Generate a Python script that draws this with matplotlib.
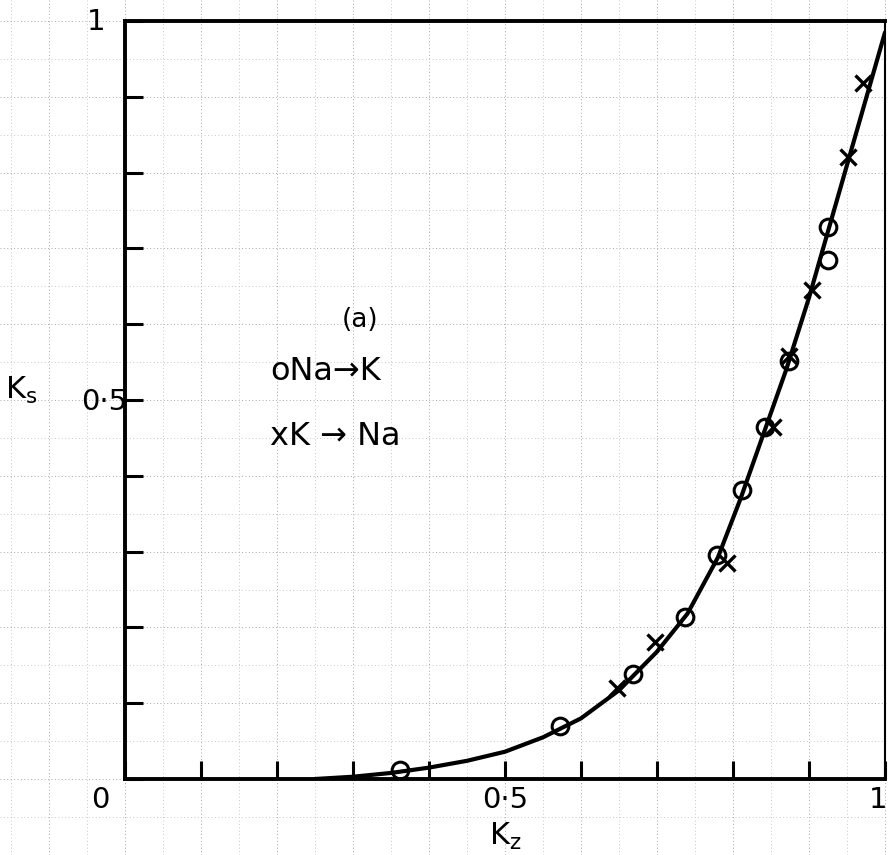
import numpy as np
import matplotlib
matplotlib.use("Agg")
import matplotlib.pyplot as plt

# ---- data ----
na_k_x = [0.362, 0.572, 0.668, 0.737, 0.779, 0.812, 0.842, 0.874, 0.925, 0.925]
na_k_y = [0.012, 0.070, 0.139, 0.214, 0.296, 0.381, 0.464, 0.551, 0.685, 0.728]

k_na_x = [0.647, 0.697, 0.792, 0.853, 0.874, 0.904, 0.951, 0.971]
k_na_y = [0.120, 0.181, 0.285, 0.464, 0.558, 0.645, 0.821, 0.918]

curve_x = [0.25, 0.30, 0.35, 0.40, 0.45, 0.50, 0.55, 0.60, 0.65, 0.70, 0.74,
           0.78, 0.81, 0.84, 0.87, 0.90, 0.93, 0.96, 1.00]
curve_y = [0.0, 0.003, 0.008, 0.015, 0.024, 0.036, 0.055, 0.080, 0.117, 0.168,
           0.218, 0.292, 0.370, 0.455, 0.540, 0.635, 0.740, 0.845, 0.985]

tick_vals = [round(0.1 * i, 1) for i in range(11)]
x_label_pos = [(-0.033, -0.028, "0"), (0.5, -0.028, "0·5"), (0.991, -0.028, "1")]
y_label_pos = [(-0.038, 0.999, "1"), (-0.028, 0.497, "0·5")]

plt.rcParams['font.family'] = ['DejaVu Sans']

W, H = 888, 855
fig = plt.figure(figsize=(W / 100, H / 100), dpi=100)
fig.patch.set_facecolor('white')

# main axes placement (pixels)
L, R, B, T = 125, 885, 855 - 779, 855 - 21
pos = [L / W, B / H, (R - L) / W, (T - B) / H]

# graph-paper background
bg = fig.add_axes([0, 0, 1, 1], zorder=0)
x0 = -pos[0] / pos[2]
x1 = (1 - pos[0]) / pos[2]
y0 = -pos[1] / pos[3]
y1 = (1 - pos[1]) / pos[3]
bg.set_xlim(x0, x1)
bg.set_ylim(y0, y1)
bg.axis('off')
for v in np.arange(-0.15, 1.06, 0.05):
    strong = abs(round(v * 20) % 2) == 0
    c = '#a8a8a8' if strong else '#c8c8c8'
    bg.axvline(v, color=c, lw=0.7, ls=(0, (1, 2.5)))
    bg.axhline(v, color=c, lw=0.7, ls=(0, (1, 2.5)))

ax = fig.add_axes(pos, zorder=1)
ax.set_facecolor('none')
ax.set_xlim(0, 1)
ax.set_ylim(0, 1)

ax.plot(curve_x, curve_y, color='black', lw=3.0, solid_capstyle='round',
        solid_joinstyle='round', zorder=3)
ax.plot(na_k_x, na_k_y, ls='none', marker='o', ms=12, mfc='none', mec='black',
        mew=2.2, zorder=4)
ax.plot(k_na_x, k_na_y, ls='none', marker='x', ms=12, mec='black', mew=2.4,
        zorder=4)

for side in ['left', 'bottom', 'top']:
    ax.spines[side].set_linewidth(2.8)
ax.spines['right'].set_linewidth(1.5)

ax.set_xticks(tick_vals)
ax.set_yticks(tick_vals)
ax.set_xticklabels([])
ax.set_yticklabels([])
ax.tick_params(axis='both', direction='in', length=13, width=2.2, color='black')

for x, y, s in x_label_pos:
    ax.text(x, y, s, ha='center', va='center', fontsize=21, clip_on=False)
for x, y, s in y_label_pos:
    ax.text(x, y, s, ha='center', va='center', fontsize=21, clip_on=False)

fig.text(5 / W, 1 - 390 / H, r"K$_\mathregular{s}$", ha='left', va='center',
         fontsize=22)
fig.text(505 / W, 1 - 836 / H, r"K$_\mathregular{z}$", ha='center', va='center',
         fontsize=22)

ax.text(0.309, 0.6055, "(a)", ha='center', va='center', fontsize=19)
ax.text(0.191, 0.538, "oNa→K", ha='left', va='center', fontsize=23)
ax.text(0.191, 0.4525, "xK → Na", ha='left', va='center', fontsize=23)

fig.savefig("out.png", dpi=100, facecolor='white')
